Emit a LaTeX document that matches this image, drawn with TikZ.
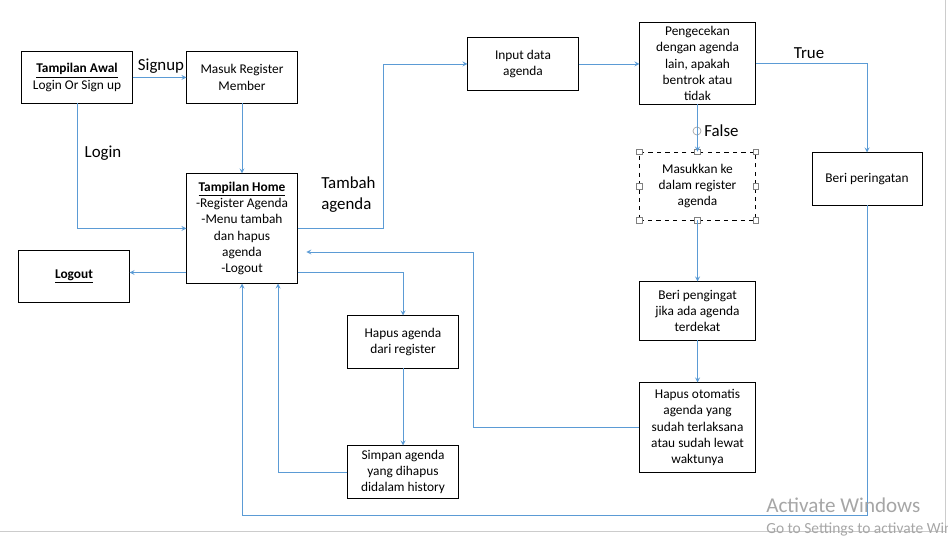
\documentclass[tikz,border=0pt]{standalone}
\usepackage{fontspec}
\setmainfont{Carlito}
\usetikzlibrary{arrows,calc,positioning}
\definecolor{pfeilblau}{HTML}{5B9BD5}
\definecolor{wasserzeichen}{HTML}{A6A6A6}
\begin{document}
\begin{tikzpicture}[x=0.025cm,y=-0.025cm,
  kasten/.style={draw=black,line width=0.7pt,align=center,font=\fontsize{9.5}{11.6}\selectfont,minimum width=2.75cm,minimum height=1.275cm,inner sep=1pt},
  fluss/.style={->,>=stealth,draw=pfeilblau,line width=0.6pt},
  beschriftung/.style={font=\fontsize{12}{15}\selectfont,inner sep=0pt},
  griff/.style={draw=gray,fill=white,line width=0.4pt,minimum size=4pt,inner sep=0pt}]
\useasboundingbox (0,0) rectangle (948,536);
%Fensterrand
\draw[gray!40,line width=0.6pt] (945,0) -- (945,531) -- (0,531);
%Kaesten
\node[kasten] (awal) at (77,77.5) {\underline{\textbf{Tampilan Awal}}\\Login Or Sign up};
\node[kasten] (masuk) at (242,77.5) {Masuk Register\\Member};
\node[kasten,minimum height=2.725cm] (home) at (242,228.5) {\underline{\textbf{Tampilan Home}}\\-Register Agenda\\-Menu tambah\\dan hapus\\agenda\\-Logout};
\node[kasten] (logout) at (74,276.5) {\underline{\textbf{Logout}}};
\node[kasten,minimum height=1.3cm] (input) at (523,64) {Input data\\agenda};
\node[kasten,minimum width=2.875cm,minimum height=2.025cm] (cek) at (697.5,63.5) {Pengecekan\\dengan agenda\\lain, apakah\\bentrok atau\\tidak};
\node[kasten,dashed,line width=0.5pt,minimum width=2.9cm,minimum height=1.7cm] (masukkan) at (697.5,186) {Masukkan ke\\dalam register\\agenda};
\node[kasten,minimum height=1.3cm] (peringatan) at (867,179) {Beri peringatan};
\node[kasten,minimum height=1.3cm] (hapus) at (403,342) {Hapus agenda\\dari register};
\node[kasten,minimum height=1.3cm] (simpan) at (403,472) {Simpan agenda\\yang dihapus\\didalam history};
\node[kasten,minimum width=2.875cm,minimum height=1.45cm] (pengingat) at (697.5,311) {Beri pengingat\\jika ada agenda\\terdekat};
\node[kasten,minimum width=2.875cm,minimum height=2.225cm] (otomatis) at (697.5,427.5) {Hapus otomatis\\agenda yang\\sudah terlaksana\\atau sudah lewat\\waktunya};
%Markierung
\foreach \ecke in {north west,north,north east,east,south east,south,south west,west}
  \node[griff] (griff \ecke) at (masukkan.\ecke) {};
\draw[gray!70,line width=0.5pt] (697,131) circle[radius=0.1cm];
%Knickpunkte
\coordinate (knickTambah) at (383,64);
\coordinate (knickHapus) at (473,252);
\coordinate (knickUnten) at (868,515);
%Pfeile
\draw[fluss] (awal.east) -- (masuk.west);
\draw[fluss] (awal.south) |- (home.west);
\draw[fluss] (masuk.south) -- (home.north);
\draw[fluss] (home.east) -| (knickTambah) -- (input.west);
\draw[fluss] (input.east) -- (input.east -| cek.west);
\draw[fluss] (cek.east) -| (peringatan.north);
\draw[fluss] (cek.south) -- (masukkan.north);
\draw[fluss] (masukkan.south) -- (pengingat.north);
\draw[fluss] (pengingat.south) -- (otomatis.north);
\draw[fluss,shorten >=0.22cm] (otomatis.west) -| (knickHapus) -- (home.east |- knickHapus);
\draw[fluss] ([yshift=0.275cm]home.south east) -| (hapus.north);
\draw[fluss] (hapus.south) -- (simpan.north);
\draw[fluss] (simpan.west) -| ([xshift=0.9cm]home.south);
\draw[fluss] ([yshift=0.275cm]home.south west) -- ([yshift=0.275cm]home.south west -| logout.east);
\draw[fluss] (peringatan.south) |- (home.south |- knickUnten) -- (home.south);
%Beschriftungen
\node[beschriftung] (signup) at (161,66) {Signup};
\node[beschriftung] (login) at (103,153) {Login};
\node[beschriftung,anchor=west,align=left] (tambah) at (321,195) {Tambah\\agenda};
\node[beschriftung] (true) at (809,53) {True};
\node[beschriftung,anchor=west] (false) at (704,131) {False};
%Wasserzeichen
\node[anchor=base west,inner sep=0pt,text=wasserzeichen,font=\fontsize{15}{18}\selectfont] (aktivieren) at (766,513) {Activate Windows};
\node[anchor=base west,inner sep=0pt,text=wasserzeichen,font=\fontsize{11}{13}\selectfont] (einstellungen) at (766,534) {Go to Settings to activate Windows.};
\end{tikzpicture}
\end{document}
